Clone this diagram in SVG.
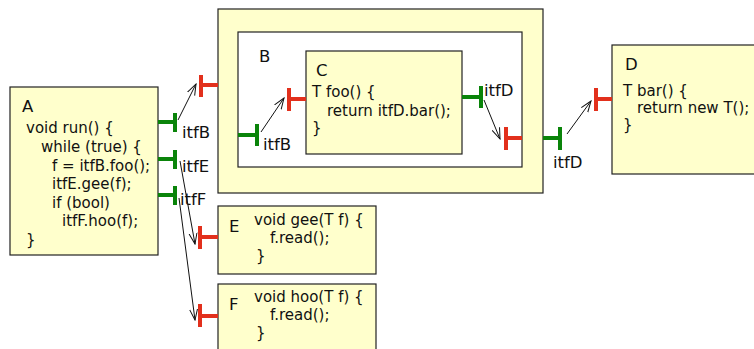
<svg xmlns="http://www.w3.org/2000/svg" width="754" height="349" viewBox="0 0 754 349">
<style>
.box{fill:#ffffcc;stroke:#222;stroke-width:1.2}
.inner{fill:#ffffff;stroke:#222;stroke-width:1.2}
.code{font-family:"DejaVu Sans",sans-serif;font-size:15px;fill:#111}
.lbl{font-family:"DejaVu Sans",sans-serif;font-size:16.5px;fill:#111}
.g{stroke:#0a840a;stroke-width:4;fill:none}
.r{stroke:#e2301c;stroke-width:4;fill:none}
.c{stroke:#111;stroke-width:1;fill:none;marker-end:url(#ah)}
</style>
<defs>
<marker id="ah" viewBox="0 0 12 10" refX="11" refY="5" markerWidth="12" markerHeight="10" markerUnits="userSpaceOnUse" orient="auto">
<path d="M0,1 L11,5 L0,9" fill="none" stroke="#111" stroke-width="1"/>
</marker>
</defs>
<rect width="754" height="349" fill="#fff"/>
<g id="A">
<rect class="box" x="10" y="87" width="148" height="168"/>
<text class="lbl" x="22" y="112">A</text>
<text class="code" x="26" y="133">void run() {</text>
<text class="code" x="41" y="152">while (true) {</text>
<text class="code" x="52" y="171">f = itfB.foo();</text>
<text class="code" x="52" y="189">itfE.gee(f);</text>
<text class="code" x="52" y="208">if (bool)</text>
<text class="code" x="62" y="226">itfF.hoo(f);</text>
<text class="code" x="26" y="245">}</text>
<path class="g" d="M158,122 H175 M175,113 V132"/>
<path class="g" d="M158,159 H175 M175,150 V169"/>
<path class="g" d="M158,195 H175 M175,186 V205"/>
<text class="lbl" x="182" y="138">itfB</text>
<text class="lbl" x="182" y="172">itfE</text>
<text class="lbl" x="180" y="205">itfF</text>
</g>
<g id="B">
<rect class="box" x="218" y="9" width="325" height="184"/>
<rect class="inner" x="238" y="32" width="284" height="135"/>
<text class="lbl" x="259" y="62">B</text>
<path class="r" d="M218,85 H201 M201,75 V97"/>
<path class="g" d="M238,135 H257 M257,124 V146"/>
<text class="lbl" x="263" y="150">itfB</text>
<path class="r" d="M522,138 H506 M506,127 V150"/>
<path class="g" d="M543,138 H560 M560,127 V150"/>
<text class="lbl" x="553" y="168">itfD</text>
</g>
<g id="C">
<rect class="box" x="306" y="51" width="156" height="103"/>
<text class="lbl" x="316" y="76">C</text>
<text class="code" x="312" y="97">T foo() {</text>
<text class="code" x="327" y="116">return itfD.bar();</text>
<text class="code" x="312" y="133">}</text>
<path class="r" d="M306,99 H289 M289,88 V111"/>
<path class="g" d="M462,97 H481 M481,86 V108"/>
<text class="lbl" x="484" y="96">itfD</text>
</g>
<g id="D">
<rect class="box" x="612" y="45" width="150" height="129"/>
<text class="lbl" x="625" y="70">D</text>
<text class="code" x="623" y="96">T bar() {</text>
<text class="code" x="637" y="113">return new T();</text>
<text class="code" x="623" y="130">}</text>
<path class="r" d="M612,99 H596 M596,88 V111"/>
</g>
<g id="E">
<rect class="box" x="218" y="206" width="158" height="68"/>
<text class="lbl" x="229" y="232">E</text>
<text class="code" x="254" y="225">void gee(T f) {</text>
<text class="code" x="270" y="243">f.read();</text>
<text class="code" x="256" y="261">}</text>
<path class="r" d="M218,237 H200 M200,226 V249"/>
</g>
<g id="F">
<rect class="box" x="218" y="284" width="158" height="80"/>
<text class="lbl" x="229" y="310">F</text>
<text class="code" x="254" y="302">void hoo(T f) {</text>
<text class="code" x="270" y="320">f.read();</text>
<text class="code" x="256" y="338">}</text>
<path class="r" d="M218,316 H200 M200,304 V327"/>
</g>
<g id="connectors">
<path class="c" d="M178,120 L196,84"/>
<path class="c" d="M180,161 L195,244"/>
<path class="c" d="M179,198 L195,320"/>
<path class="c" d="M261,132 L284,98"/>
<path class="c" d="M484,100 L500,139"/>
<path class="c" d="M567,134 L591,101"/>
</g>
</svg>
